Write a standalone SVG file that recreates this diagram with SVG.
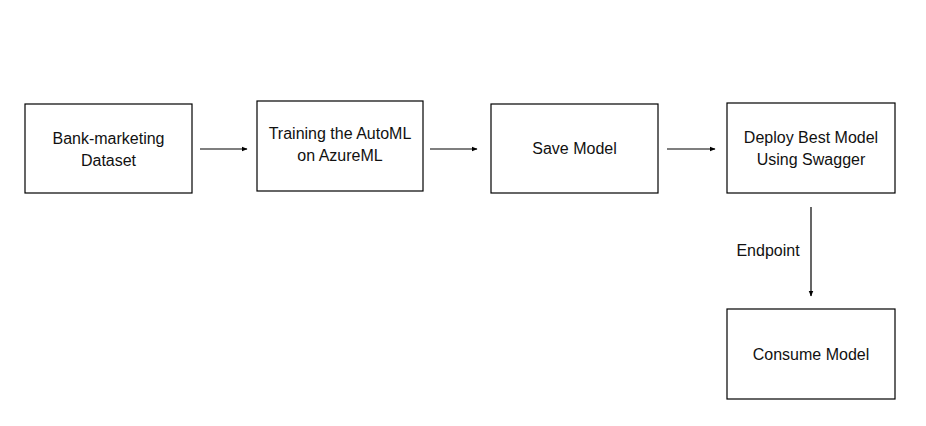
<svg xmlns="http://www.w3.org/2000/svg" width="926" height="426" viewBox="0 0 926 426">
<style>
.box{fill:#fff;stroke:#000;stroke-width:1.2}
.t{font-family:"Liberation Sans",Arial,sans-serif;font-size:16px;fill:#111;text-anchor:middle}
.c{stroke:#000;stroke-width:1.2;fill:none}
</style>
<defs>
<marker id="ah" viewBox="0 0 10 10" refX="9" refY="5" markerWidth="6" markerHeight="6" orient="auto" markerUnits="userSpaceOnUse"><path d="M0,1 L10,5 L0,9 z" fill="#000"/></marker>
</defs>
<rect width="926" height="426" fill="#fff"/>
<g id="n1"><rect class="box" x="25" y="104" width="167" height="89"/><text class="t" x="108.5" y="144">Bank-marketing</text><text class="t" x="108.5" y="166">Dataset</text></g>
<g id="n2"><rect class="box" x="257" y="101" width="166" height="90"/><text class="t" x="340" y="139">Training the AutoML</text><text class="t" x="340" y="161">on AzureML</text></g>
<g id="n3"><rect class="box" x="491" y="104" width="167" height="89"/><text class="t" x="574.5" y="154">Save Model</text></g>
<g id="n4"><rect class="box" x="727" y="103" width="168" height="90"/><text class="t" x="811" y="143">Deploy Best Model</text><text class="t" x="811" y="165">Using Swagger</text></g>
<g id="n5"><rect class="box" x="727" y="309" width="168" height="90"/><text class="t" x="811" y="360">Consume Model</text></g>
<g id="connectors">
<line class="c" x1="200" y1="149" x2="247" y2="149" marker-end="url(#ah)"/>
<line class="c" x1="430" y1="149" x2="477" y2="149" marker-end="url(#ah)"/>
<line class="c" x1="667" y1="149" x2="715" y2="149" marker-end="url(#ah)"/>
<line class="c" x1="811" y1="207" x2="811" y2="296" marker-end="url(#ah)"/>
<text class="t" x="768" y="256">Endpoint</text>
</g>
</svg>
